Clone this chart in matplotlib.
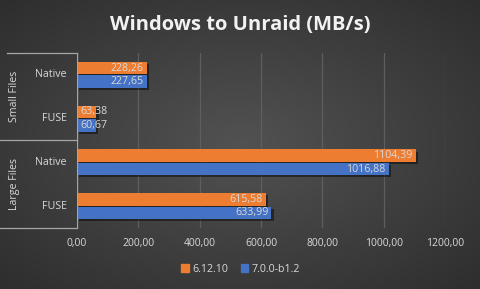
import numpy as np
import matplotlib
matplotlib.use("Agg")
import matplotlib.pyplot as plt
import matplotlib.patheffects as pe
from matplotlib.lines import Line2D

groups = ["Small Files", "Large Files"]
categories = ["Native", "FUSE", "Native", "FUSE"]
series_names = ["6.12.10", "7.0.0-b1.2"]
v_6_12_10 = [228.26, 63.38, 1104.39, 615.58]
v_7_0_0 = [227.65, 60.67, 1016.88, 633.99]
xticks = [0, 200, 400, 600, 800, 1000, 1200]

orange = "#ED7D31"
blue = "#4472C4"
txt = "#D9D9D9"

plt.rcParams['font.family'] = ['Open Sans', 'DejaVu Sans']

W, H = 481, 289
fig = plt.figure(figsize=(W / 100, H / 100), dpi=100)

# background radial gradient
bg = fig.add_axes([0, 0, 1, 1], zorder=-10)
yy, xx = np.mgrid[0:H, 0:W]
r = np.sqrt(((xx - W * 0.5) / (W * 0.7)) ** 2 + ((yy - H * 0.5) / (H * 0.7)) ** 2)
c0 = np.array([0x52, 0x52, 0x52]) / 255
c1 = np.array([0x2E, 0x2E, 0x2E]) / 255
t = np.clip(r, 0, 1)[..., None]
img = c0 * (1 - t) + c1 * t
bg.imshow(img, aspect='auto', extent=[0, 1, 0, 1])
bg.set_axis_off()

L, R = 77 / W, 445 / W
B, T = 1 - 228 / H, 1 - 53 / H
ax = fig.add_axes([L, B, R - L, T - B])
ax.patch.set_alpha(0)

n = len(categories)
y = np.arange(n)
bh = 0.285
shadow = [pe.SimplePatchShadow(offset=(1.5, -1.5), shadow_rgbFace='black', alpha=0.45), pe.Normal()]
b1 = ax.barh(y - bh / 2 - 0.01, v_6_12_10, height=bh, color=orange, zorder=3)
b2 = ax.barh(y + bh / 2 + 0.01, v_7_0_0, height=bh, color=blue, zorder=3)
for bars in (b1, b2):
    for p in bars:
        p.set_path_effects(shadow)

for bars, vals in ((b1, v_6_12_10), (b2, v_7_0_0)):
    for p, v in zip(bars, vals):
        yc = p.get_y() + p.get_height() / 2
        s = f"{v:.2f}".replace(".", ",")
        if v < 100:
            ax.text(10, yc, s, ha='left', va='center', color=txt, fontsize=7.7, zorder=5)
        else:
            ax.text(v - 10, yc, s, ha='right', va='center', color=txt, fontsize=7.7, zorder=5)

ax.set_xlim(0, 1200)
ax.set_ylim(n - 0.5, -0.5)
ax.set_xticks(xticks)
ax.set_xticklabels([f"{v:.2f}".replace(".", ",") for v in xticks], color=txt, fontsize=7.5)
ax.tick_params(axis='x', length=0, pad=7)
ax.set_yticks([])
for s in ax.spines.values():
    s.set_visible(False)
ax.grid(axis='x', color='#5E5E5E', linewidth=0.9, zorder=0)
ax.axvline(0, color='#A6A6A6', linewidth=0.9, zorder=4)

# category labels
for i, c in enumerate(categories):
    ax.text(-10 / 368 * 1200, i, c, ha='right', va='center', color=txt, fontsize=7.7,
            transform=ax.transData)

def fx(px):
    return px / W
def fy(py):
    return 1 - py / H
lc = '#A6A6A6'
fig.add_artist(Line2D([fx(7), fx(77)], [fy(53), fy(53)], color=lc, lw=0.9))
fig.add_artist(Line2D([fx(0), fx(77)], [fy(140), fy(140)], color=lc, lw=0.9))
fig.add_artist(Line2D([fx(0), fx(77)], [fy(228), fy(228)], color=lc, lw=0.9))
fig.text(fx(15), fy(96), groups[0], rotation=90, ha='center', va='center', color=txt, fontsize=7.7)
fig.text(fx(15), fy(184), groups[1], rotation=90, ha='center', va='center', color=txt, fontsize=7.7)

fig.text(0.5, fy(25), "Windows to Unraid (MB/s)", ha='center', va='center', color='#F2F2F2',
         fontsize=14.5, fontweight='bold')

handles = [plt.Rectangle((0, 0), 1, 1, color=orange), plt.Rectangle((0, 0), 1, 1, color=blue)]
leg = fig.legend(handles, series_names, loc='center', bbox_to_anchor=(0.5, fy(269)), ncol=2,
                 frameon=False, fontsize=7.7, handlelength=0.7, handleheight=0.7,
                 handletextpad=0.3, columnspacing=1.2, labelcolor=txt)

fig.savefig("out.png", dpi=100)
